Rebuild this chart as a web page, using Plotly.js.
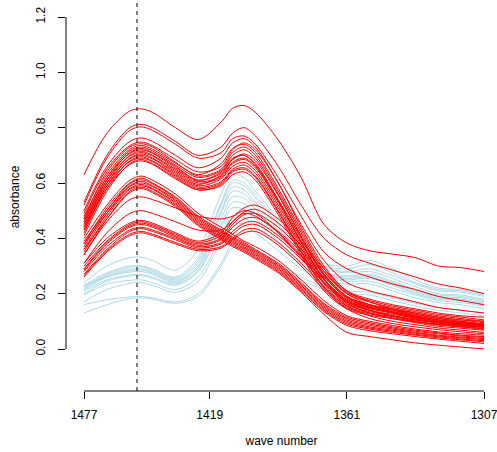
<!DOCTYPE html>
<html>
<head>
<meta charset="utf-8">
<script src="https://cdn.plot.ly/plotly-3.0.1.min.js"></script>
<style>html,body{margin:0;padding:0;background:#fff;}#chart{width:497px;height:452px;}</style>
</head>
<body>
<div id="chart"></div>
<script>
// sample positions (index along the spectrum, 0 = 1477 ... 35 = 1307)
const samplePos = [0,2,4,5,6,8,10,12,13,14,15,17,19,21,23,25,27,29,31,33,35];
const tickPos = [0,11,23,35];
const tickLabels = ['1477','1419','1361','1307'];
const refLinePos = 4.64;

const blueSpectra = [
  [0.24,0.30,0.33,0.332,0.32,0.285,0.36,0.56,0.63,0.62,0.57,0.47,0.37,0.31,0.30,0.32,0.29,0.25,0.22,0.215,0.20],
  [0.23,0.275,0.30,0.30,0.29,0.26,0.33,0.53,0.61,0.60,0.555,0.46,0.36,0.30,0.29,0.305,0.275,0.24,0.215,0.21,0.195],
  [0.225,0.27,0.295,0.298,0.285,0.255,0.32,0.52,0.60,0.59,0.545,0.45,0.355,0.295,0.28,0.29,0.265,0.235,0.21,0.205,0.19],
  [0.22,0.265,0.288,0.29,0.28,0.25,0.31,0.50,0.585,0.575,0.53,0.44,0.35,0.29,0.275,0.28,0.255,0.225,0.20,0.195,0.18],
  [0.215,0.26,0.283,0.285,0.275,0.245,0.30,0.49,0.57,0.56,0.52,0.43,0.34,0.28,0.265,0.27,0.245,0.215,0.195,0.19,0.175],
  [0.23,0.26,0.278,0.28,0.27,0.24,0.295,0.47,0.55,0.545,0.505,0.42,0.335,0.275,0.26,0.265,0.24,0.21,0.19,0.185,0.17],
  [0.21,0.25,0.268,0.27,0.26,0.235,0.285,0.45,0.53,0.525,0.49,0.405,0.325,0.27,0.255,0.26,0.235,0.205,0.185,0.18,0.165],
  [0.20,0.245,0.263,0.265,0.255,0.23,0.28,0.44,0.51,0.505,0.47,0.39,0.315,0.265,0.25,0.255,0.23,0.20,0.18,0.175,0.16],
  [0.195,0.235,0.248,0.25,0.24,0.215,0.26,0.41,0.48,0.475,0.445,0.375,0.305,0.26,0.245,0.245,0.22,0.195,0.175,0.168,0.155],
  [0.17,0.215,0.237,0.24,0.23,0.205,0.245,0.39,0.455,0.45,0.42,0.355,0.29,0.25,0.235,0.235,0.21,0.185,0.168,0.16,0.145],
  [0.16,0.178,0.188,0.19,0.185,0.17,0.20,0.31,0.38,0.375,0.355,0.31,0.26,0.225,0.21,0.205,0.185,0.165,0.15,0.14,0.13],
  [0.13,0.16,0.182,0.185,0.18,0.165,0.19,0.30,0.365,0.365,0.345,0.30,0.25,0.215,0.20,0.195,0.175,0.155,0.14,0.13,0.12]
];

const redSpectra = [
  [0.63,0.78,0.86,0.868,0.855,0.80,0.757,0.82,0.87,0.88,0.855,0.755,0.62,0.45,0.383,0.355,0.343,0.33,0.30,0.294,0.28],
  [0.53,0.70,0.80,0.812,0.80,0.75,0.70,0.73,0.78,0.80,0.77,0.66,0.52,0.40,0.34,0.31,0.285,0.26,0.235,0.22,0.20],
  [0.52,0.69,0.79,0.803,0.79,0.74,0.69,0.71,0.76,0.77,0.74,0.62,0.48,0.35,0.29,0.26,0.235,0.215,0.19,0.175,0.16],
  [0.50,0.66,0.75,0.763,0.75,0.70,0.655,0.69,0.745,0.76,0.73,0.60,0.45,0.32,0.24,0.21,0.19,0.17,0.15,0.14,0.13],
  [0.49,0.65,0.735,0.748,0.735,0.685,0.64,0.66,0.72,0.745,0.72,0.60,0.44,0.30,0.21,0.18,0.16,0.145,0.13,0.12,0.115],
  [0.47,0.64,0.73,0.742,0.73,0.675,0.625,0.65,0.71,0.73,0.70,0.57,0.42,0.28,0.20,0.17,0.15,0.135,0.12,0.11,0.10],
  [0.48,0.63,0.722,0.736,0.722,0.672,0.63,0.67,0.725,0.74,0.71,0.58,0.43,0.29,0.205,0.175,0.155,0.14,0.125,0.115,0.105],
  [0.46,0.62,0.716,0.73,0.716,0.665,0.62,0.645,0.70,0.72,0.69,0.56,0.41,0.27,0.19,0.16,0.145,0.13,0.115,0.105,0.095],
  [0.45,0.61,0.71,0.725,0.71,0.66,0.61,0.64,0.69,0.70,0.67,0.54,0.40,0.265,0.185,0.155,0.14,0.125,0.11,0.10,0.09],
  [0.47,0.62,0.707,0.72,0.707,0.655,0.61,0.635,0.685,0.705,0.68,0.555,0.405,0.27,0.19,0.16,0.145,0.13,0.115,0.105,0.10],
  [0.44,0.60,0.70,0.715,0.70,0.65,0.605,0.625,0.675,0.69,0.66,0.535,0.39,0.255,0.175,0.15,0.135,0.12,0.105,0.095,0.085],
  [0.46,0.61,0.697,0.71,0.697,0.645,0.60,0.62,0.67,0.685,0.655,0.53,0.385,0.25,0.175,0.148,0.132,0.118,0.105,0.097,0.09],
  [0.43,0.59,0.69,0.705,0.69,0.64,0.595,0.63,0.685,0.70,0.665,0.535,0.385,0.25,0.17,0.145,0.13,0.115,0.10,0.09,0.08],
  [0.45,0.60,0.687,0.70,0.687,0.635,0.59,0.615,0.66,0.675,0.645,0.52,0.375,0.24,0.165,0.14,0.125,0.112,0.10,0.09,0.085],
  [0.42,0.58,0.68,0.695,0.68,0.63,0.585,0.605,0.65,0.665,0.635,0.51,0.365,0.235,0.16,0.135,0.12,0.108,0.095,0.087,0.08],
  [0.44,0.59,0.677,0.69,0.677,0.625,0.58,0.60,0.645,0.655,0.625,0.50,0.355,0.225,0.155,0.13,0.117,0.105,0.093,0.085,0.078],
  [0.41,0.57,0.67,0.685,0.67,0.62,0.575,0.595,0.64,0.65,0.62,0.495,0.35,0.22,0.15,0.127,0.113,0.10,0.09,0.082,0.075],
  [0.43,0.58,0.667,0.68,0.667,0.615,0.575,0.59,0.63,0.64,0.61,0.485,0.34,0.21,0.145,0.122,0.11,0.098,0.087,0.08,0.072],
  [0.34,0.46,0.54,0.55,0.54,0.51,0.48,0.47,0.48,0.50,0.49,0.42,0.33,0.24,0.17,0.14,0.12,0.105,0.095,0.085,0.08],
  [0.31,0.42,0.49,0.50,0.49,0.46,0.43,0.43,0.46,0.49,0.48,0.42,0.34,0.25,0.18,0.15,0.13,0.115,0.10,0.09,0.085],
  [0.40,0.52,0.61,0.625,0.61,0.56,0.49,0.44,0.415,0.39,0.37,0.32,0.25,0.175,0.12,0.10,0.085,0.072,0.062,0.055,0.05],
  [0.38,0.51,0.60,0.618,0.60,0.55,0.48,0.43,0.405,0.385,0.36,0.31,0.24,0.165,0.115,0.095,0.08,0.068,0.058,0.05,0.045],
  [0.39,0.50,0.597,0.612,0.597,0.545,0.475,0.425,0.40,0.38,0.355,0.305,0.235,0.16,0.11,0.09,0.076,0.064,0.055,0.047,0.042],
  [0.37,0.50,0.59,0.606,0.59,0.54,0.47,0.42,0.395,0.375,0.35,0.30,0.23,0.155,0.105,0.085,0.072,0.06,0.05,0.043,0.038],
  [0.36,0.49,0.587,0.60,0.587,0.535,0.465,0.415,0.39,0.37,0.345,0.295,0.225,0.15,0.10,0.08,0.068,0.057,0.047,0.04,0.034],
  [0.38,0.49,0.58,0.595,0.58,0.53,0.46,0.41,0.385,0.365,0.34,0.29,0.22,0.145,0.095,0.076,0.064,0.053,0.044,0.036,0.03],
  [0.35,0.48,0.577,0.59,0.577,0.525,0.455,0.405,0.38,0.36,0.335,0.285,0.215,0.14,0.09,0.072,0.06,0.05,0.04,0.033,0.026],
  [0.34,0.47,0.57,0.585,0.57,0.52,0.45,0.40,0.375,0.355,0.33,0.28,0.21,0.135,0.085,0.066,0.055,0.045,0.036,0.028,0.02],
  [0.36,0.47,0.565,0.58,0.565,0.515,0.445,0.395,0.37,0.35,0.325,0.275,0.205,0.125,0.06,0.045,0.033,0.022,0.014,0.007,0.0],
  [0.31,0.40,0.455,0.465,0.455,0.42,0.39,0.42,0.475,0.51,0.52,0.47,0.39,0.29,0.21,0.17,0.145,0.125,0.11,0.10,0.09],
  [0.30,0.39,0.45,0.46,0.45,0.415,0.385,0.41,0.46,0.495,0.505,0.455,0.375,0.28,0.20,0.16,0.14,0.12,0.105,0.095,0.088],
  [0.29,0.385,0.445,0.455,0.445,0.41,0.38,0.40,0.45,0.485,0.49,0.44,0.36,0.27,0.19,0.155,0.135,0.115,0.10,0.092,0.085],
  [0.285,0.38,0.44,0.45,0.44,0.405,0.375,0.395,0.44,0.47,0.475,0.425,0.35,0.26,0.185,0.15,0.13,0.11,0.097,0.088,0.08],
  [0.28,0.37,0.43,0.44,0.43,0.40,0.37,0.385,0.425,0.455,0.46,0.41,0.335,0.25,0.175,0.14,0.12,0.10,0.088,0.08,0.072],
  [0.27,0.36,0.425,0.435,0.425,0.395,0.365,0.38,0.415,0.445,0.45,0.40,0.325,0.24,0.165,0.13,0.11,0.095,0.082,0.075,0.068],
  [0.265,0.355,0.415,0.425,0.415,0.385,0.36,0.37,0.40,0.43,0.435,0.385,0.31,0.225,0.155,0.12,0.10,0.088,0.076,0.068,0.06],
  [0.26,0.35,0.41,0.42,0.41,0.38,0.355,0.365,0.395,0.42,0.425,0.375,0.30,0.215,0.145,0.11,0.092,0.08,0.07,0.062,0.055]
];

const yTicks = [0,0.2,0.4,0.6,0.8,1.0,1.2];

const traces = [];
blueSpectra.forEach(s => traces.push({x: samplePos, y: s, type: 'scatter', mode: 'lines',
  line: {color: '#ADD8E6', width: 1, shape: 'spline', smoothing: 0.9}, hoverinfo: 'skip', showlegend: false}));
redSpectra.forEach(s => traces.push({x: samplePos, y: s, type: 'scatter', mode: 'lines',
  line: {color: '#FF0000', width: 1, shape: 'spline', smoothing: 0.9}, hoverinfo: 'skip', showlegend: false}));

const font = {family: 'Liberation Sans, Arial, sans-serif', size: 12, color: '#000'};
const layout = {
  width: 497, height: 452,
  margin: {l: 66, r: 0, t: 3, b: 61, pad: 0},
  paper_bgcolor: '#fff', plot_bgcolor: '#fff',
  font: font,
  showlegend: false,
  xaxis: {
    range: [-1.575, 36.1375], showgrid: false, zeroline: false, showline: false,
    tickmode: 'array', tickvals: tickPos, ticktext: tickLabels,
    ticks: 'outside', ticklen: 7, tickwidth: 1, tickcolor: '#000',
    tickfont: font, ticklabelstandoff: 6, ticklabeloverflow: 'allow',
    title: {text: 'wave number', font: font, standoff: 15}
  },
  yaxis: {
    range: [-0.1518, 1.2506], showgrid: false, zeroline: false, showline: false,
    tickmode: 'array', tickvals: yTicks, ticktext: yTicks.map(v => v.toFixed(1)),
    ticks: 'outside', ticklen: 7, tickwidth: 1, tickcolor: '#000',
    tickfont: font, tickangle: -90, ticklabelstandoff: 8,
    title: {text: 'absorbance', font: font, standoff: 12}
  },
  shapes: [
    {type: 'line', xref: 'paper', yref: 'y', x0: 0, x1: 0, y0: yTicks[0], y1: yTicks[yTicks.length-1], line: {color: '#000', width: 1}},
    {type: 'line', xref: 'x', yref: 'paper', x0: tickPos[0], x1: tickPos[tickPos.length-1], y0: 0, y1: 0, line: {color: '#000', width: 1}},
    {type: 'line', xref: 'x', yref: 'paper', x0: refLinePos, x1: refLinePos, y0: 0, y1: 1, line: {color: '#000', width: 1, dash: '4px,4px'}}
  ]
};
Plotly.newPlot('chart', traces, layout, {staticPlot: true, displayModeBar: false});
</script>
</body>
</html>
